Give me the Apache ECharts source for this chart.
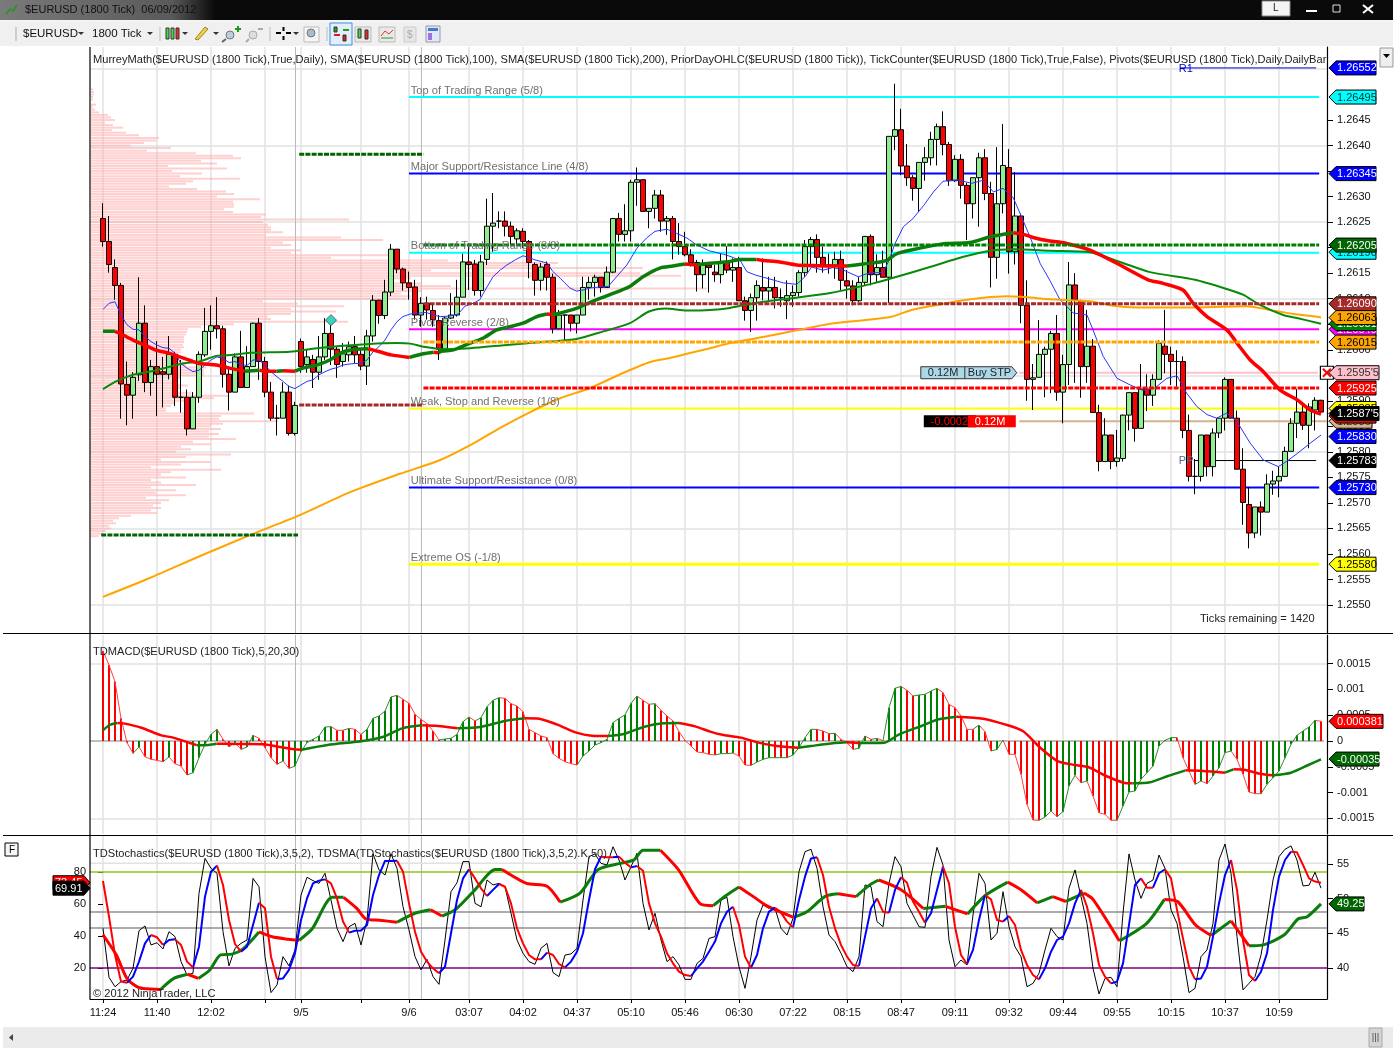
<!DOCTYPE html>
<html><head><meta charset="utf-8">
<style>html,body{margin:0;padding:0;background:#fff}#c{width:1400px;height:1050px}</style>
<script src="https://cdn.jsdelivr.net/npm/echarts@6/dist/echarts.min.js"></script>
</head><body><div id="c"></div>
<script>
// ---------- candles, in points (1e-5 of price), one entry per bar ----------
const opens=[126257,126212,126161,126126,125932,125911,125951,126052,125936,125967,
125957,125952,125991,125907,125907,125845,125907,125990,126036,126047,
126041,125952,125917,125986,125926,125967,126052,125977,125917,125866,
125866,125917,125836,126016,125971,125981,125956,125986,126032,126001,
125977,125990,126006,125991,125968,126027,126097,126067,126113,126197,
126158,126131,126123,126068,126091,126077,126057,126001,126062,126068,
126103,126172,126168,126116,126177,126242,126252,126252,126242,126217,
126232,126212,126167,126136,126167,126142,126041,126068,126068,126052,
126068,126122,126132,126142,126122,126152,126257,126226,126233,126328,
126333,126271,126277,126303,126252,126257,126212,126202,126186,126171,
126147,126166,126152,126147,126171,126156,126161,126096,126077,126102,
126122,126115,126122,126102,126096,126106,126112,126151,126202,126216,
126181,126166,126166,126177,126135,126125,126096,126132,126222,126147,
126161,126142,126418,126431,126360,126337,126316,126367,126376,126412,
126437,126402,126331,126373,126322,126286,126337,126376,126306,126181,
126286,126357,126192,126262,126087,125942,125946,125991,126001,126032,
125917,125971,126127,126096,125967,126007,125877,125781,125833,125781,
125787,125872,125916,125846,125923,125911,125942,126007,125991,125977,
125977,125842,125752,125752,125833,125771,125837,125866,125942,125866,
125766,125697,125641,125692,125682,125737,125743,125752,125801,125856,
125878,125852,125882,125901];
const closes=[126212,126167,126126,125933,125911,125946,126052,125936,125967,125952,
125952,125991,125907,125907,125845,125907,125991,126036,126047,126041,
125952,125917,125986,125926,125967,126052,125977,125917,125866,125866,
125917,125836,125891,125967,125986,125956,125986,126032,126001,125971,
125992,126006,125990,125968,126027,126097,126067,126113,126197,126158,
126131,126122,126068,126091,126078,126059,126001,126062,126068,126103,
126172,126167,126116,126172,126242,126248,126252,126242,126222,126233,
126212,126171,126136,126162,126142,126041,126068,126068,126052,126068,
126122,126132,126142,126122,126152,126257,126226,126233,126328,126333,
126271,126277,126303,126252,126257,126212,126202,126186,126171,126147,
126166,126161,126147,126171,126156,126161,126096,126077,126102,126126,
126115,126122,126102,126102,126106,126112,126151,126202,126216,126181,
126166,126166,126177,126136,126125,126096,126132,126222,126147,126161,
126142,126418,126431,126360,126337,126316,126367,126376,126412,126437,
126402,126331,126373,126322,126286,126337,126376,126306,126181,126286,
126361,126192,126262,126087,125942,125945,125991,126001,126032,125917,
125971,126127,126098,125967,126007,125877,125781,125833,125781,125788,
125872,125916,125846,125923,125911,125942,126013,125991,125977,125977,
125842,125752,125752,125833,125771,125837,125866,125942,125866,125766,
125701,125641,125692,125682,125737,125743,125752,125801,125856,125878,
125852,125888,125901,125878];
const lows=[126202,126151,126098,125865,125852,125865,125939,125917,125910,125870,
125887,125942,125890,125877,125832,125845,125896,125986,126000,126022,
125926,125881,125917,125926,125926,125967,125941,125907,125861,125832,
125866,125832,125832,125955,125955,125925,125941,125980,125970,125945,
125967,125977,125973,125960,125931,126016,126051,126060,126105,126150,
126116,126098,126059,126045,126059,126045,125980,126001,126060,126065,
126103,126117,126106,126104,126166,126192,126238,126222,126205,126204,
126199,126140,126106,126116,126116,126032,126041,126019,126036,126032,
126068,126098,126104,126112,126122,126150,126212,126212,126212,126282,
126271,126238,126257,126231,126225,126177,126186,126183,126163,126114,
126120,126112,126133,126130,126150,126133,126096,126057,126035,126057,
126097,126096,126081,126084,126060,126084,126104,126143,126162,126151,
126151,126149,126139,126117,126100,126087,126094,126126,126126,126133,
126142,126092,126391,126342,126321,126292,126270,126331,126361,126361,
126381,126321,126329,126296,126215,126257,126241,126293,126122,126139,
126267,126149,126167,126052,125900,125882,125946,125907,125915,125900,
125856,125931,125935,125906,125935,125877,125762,125781,125766,125771,
125781,125842,125820,125846,125880,125890,125942,125954,125931,125928,
125827,125742,125717,125742,125752,125752,125827,125842,125866,125766,
125657,125611,125631,125636,125682,125716,125711,125752,125801,125827,
125843,125807,125842,125876];
const highs=[126287,126262,126177,126131,125977,125956,126142,126087,125980,126017,
125986,126027,125996,125980,125922,125917,125997,126082,126087,126103,
126047,125967,125993,126037,126007,126053,126062,125986,125937,125892,
125936,125930,125898,126022,126000,125990,126027,126062,126051,126006,
126013,126016,126027,126001,126039,126107,126098,126137,126207,126197,
126161,126153,126137,126103,126104,126091,126068,126065,126111,126137,
126188,126209,126176,126186,126296,126307,126271,126271,126251,126238,
126238,126215,126171,126170,126173,126149,126078,126068,126068,126068,
126143,126143,126147,126142,126163,126257,126268,126285,126333,126357,
126333,126277,126313,126313,126262,126262,126248,126231,126197,126176,
126177,126166,126166,126188,126203,126179,126182,126104,126110,126136,
126179,126143,126143,126120,126136,126126,126156,126215,126221,126226,
126202,126188,126192,126194,126156,126136,126143,126223,126226,126187,
126194,126418,126521,126472,126403,126342,126367,126397,126427,126443,
126467,126407,126381,126383,126327,126337,126386,126393,126329,126397,
126442,126393,126348,126267,126136,125972,126058,126006,126037,126068,
125990,126172,126150,126098,126078,126021,125892,125866,125833,125843,
125873,125916,125916,125972,125952,125952,126019,126078,126006,125999,
125987,125873,125786,125833,125833,125846,125866,125946,125942,125881,
125807,125731,125692,125703,125756,125763,125771,125810,125866,125923,
125895,125895,125907,125902];

// ---------- moving averages: [bar, points] ----------
const fastMA=[[0,126079],[1,126091],[2,126094],[3,126068],[4,126049],[5,126040],[6,126039],[7,126026],[8,126016],[9,126009],[10,126004],[11,126003],[12,125993],[13,125973],[14,125964],[15,125957],[16,125960],[17,125970],[18,125980],[19,125986],[20,125983],[21,125975],[22,125977],[23,125971],[24,125969],[25,125980],[26,125980],[27,125970],[28,125957],[29,125947],[30,125938],[31,125928],[32,125924],[33,125931],[34,125938],[35,125941],[36,125951],[37,125957],[38,125962],[39,125965],[40,125970],[41,125972],[42,125973],[43,125973],[44,125980],[45,125996],[46,126006],[47,126019],[48,126039],[49,126055],[50,126065],[51.2,126070],[52.8,126072],[53.9,126073],[55.1,126068],[56.2,126065],[57.8,126066],[59.2,126070],[60.3,126085],[61.7,126091],[62.8,126098],[63.9,126121],[65,126143],[66.2,126156],[67.3,126166],[68.7,126176],[70,126184],[70.9,126181],[72,126176],[74,126170],[75,126153],[76.2,126140],[77.8,126121],[78.9,126115],[80,126117],[81.2,126121],[82.8,126123],[84.2,126124],[85.6,126143],[87.3,126166],[89,126199],[90.6,126219],[92,126232],[94,126236],[95.6,126228],[97.3,126219],[99,126205],[101,126194],[103.4,126187],[104.5,126183],[106.2,126175],[107.3,126153],[108.8,126146],[111,126139],[113.4,126131],[115.6,126128],[117,126143],[118.1,126162],[120,126156],[121.7,126161],[123.4,126156],[125.9,126143],[127.8,126151],[130,126151],[131,126175],[132,126208],[133.4,126241],[135,126257],[136.8,126283],[138.4,126309],[140,126330],[142.3,126333],[144.8,126326],[146.7,126332],[148.4,126309],[150,126316],[151.7,126298],[153.1,126260],[154.5,126221],[156.2,126169],[157.8,126136],[159.5,126098],[161.7,126072],[164,126068],[165,126039],[166.7,125987],[169,125944],[171.2,125931],[173.4,125920],[175.3,125925],[177.3,125944],[179,125949],[180.6,125915],[182.3,125889],[184,125873],[185.6,125866],[187.3,125876],[189,125859],[191.2,125817],[193.4,125784],[195.9,125771],[197.6,125784],[199.5,125801],[201.2,125817],[203,125833]];
const sma100=[[0,126036],[2,126036],[3,126031],[5,126019],[7,126009],[8.9,125999],[11.1,125993],[12.8,125986],[15,125977],[16.1,125973],[18.9,125970],[21.1,125964],[23.6,125958],[26.1,125960],[26.7,125958],[28.9,125958],[30,125959],[32,125958],[33.3,125964],[35.6,125970],[37.8,125980],[40,125996],[42.2,126001],[44.2,126002],[46.1,125996],[48,125990],[51.1,125985],[53.4,125992],[55.1,125995],[55.9,125994],[56.4,125997],[58.4,126000],[60.6,126010],[63.4,126023],[65.6,126039],[67.8,126045],[70,126052],[72.3,126065],[74,126070],[74.8,126069],[75.6,126070],[78.9,126081],[81.2,126093],[84.5,126108],[87.8,126124],[90,126143],[92.8,126160],[95,126164],[97,126168],[99,126166],[100,126168],[102.8,126171],[104.5,126173],[106.2,126177],[108.9,126177],[110,126175],[112.8,126172],[115.6,126166],[118.4,126165],[121.2,126164],[124,126164],[126.7,126168],[129.5,126172],[130.6,126175],[132.3,126188],[134.5,126195],[137.8,126203],[140.6,126208],[144.5,126210],[147.8,126221],[151.7,126229],[153.4,126226],[155,126220],[157.8,126213],[160.3,126209],[164.5,126195],[169.5,126166],[174.2,126137],[176.7,126130],[180,126117],[181.7,126091],[184,126065],[187.3,126039],[189,126013],[191.2,125980],[193.4,125957],[196.2,125921],[199,125902],[201.2,125882],[203,125874]];
const sma200Green=[[0,125923],[2.2,125938],[5,125951],[8.9,125960],[13.3,125973],[16.1,125977],[18.9,125988],[21.7,125990],[24.4,125994],[27.8,125995],[31.1,125996],[35.6,126003],[40,126008],[43.9,126011],[48.9,126013],[51.2,126012],[53.4,126006],[56.7,126001],[61.2,126003],[67.8,126010],[74.5,126016],[78.9,126021],[83.4,126036],[87.8,126052],[91,126075],[93.8,126081],[97.3,126077],[101.2,126078],[104.5,126082],[110,126094],[115.6,126102],[121.2,126111],[128.4,126130],[132.3,126143],[137.8,126162],[143.4,126182],[147.8,126194],[151.7,126197],[157.8,126194],[164.5,126191],[169.5,126172],[174.5,126152],[182,126137],[187.3,126119],[190,126108],[192.8,126088],[196.7,126068],[199,126062],[202.3,126053],[203,126051]];
const smaOrange=[[0,125516],[7.8,125553],[16.2,125596],[24.5,125637],[32.8,125676],[41.2,125721],[49.5,125757],[56.2,125784],[61.2,125813],[66.2,125847],[71.2,125878],[76.2,125905],[81.2,125925],[86.2,125952],[91.2,125976],[94.5,125984],[97.3,125992],[101.2,126003],[104.5,126013],[110,126025],[115.6,126038],[121.2,126051],[126.7,126058],[131.2,126064],[134.5,126077],[137.8,126085],[142.3,126095],[146.7,126102],[150.6,126105],[152.8,126104],[155.6,126101],[157.8,126099],[161.2,126097],[164.5,126095],[168.4,126086],[172.3,126083],[182.3,126083],[190.6,126085],[194.5,126078],[198.4,126070],[202,126065],[203,126063]];

// ---------- volume profile: estimated volume per 0.5 pip row, top row first ----------
const profileTop=1.2651, profileStep=0.00005;
const profile=[2,3,3,2,2,0,5,2,4,8,17,20,24,14,22,32,21,35,48,68,65,53,40,80,56,105,142,150,110,126,77,136,81,111,89,149,102,95,78,106,135,143,126,169,142,143,143,133,142,175,170,258,172,177,180,180,192,175,250,292,192,200,180,210,200,300,240,357,467,460,552,340,549,590,320,300,330,360,616,330,310,320,315,172,207,253,200,245,200,177,180,257,143,110,97,96,95,93,93,93,92,93,90,90,88,83,85,93,95,115,113,113,113,90,85,83,97,90,85,100,137,123,100,83,80,75,75,163,130,128,187,132,120,130,118,128,118,145,102,120,90,100,85,140,95,70,120,90,60,130,80,70,95,60,70,105,60,85,65,95,55,78,70,62,70,60,66,40,28,22,25,18,20,15,12,8];

// ---------- horizontal levels ----------
const murreyNames=['Top of Trading Range (5/8)','Major Support/Resistance Line (4/8)','Bottom of Trading Range (3/8)','Pivot, Reverse (2/8)','Weak, Stop and Reverse (1/8)','Ultimate Support/Resistance (0/8)','Extreme OS (-1/8)'];
const murreyValues=[1.26495,1.26345,1.26190,1.26040,1.25885,1.25730,1.25580];
const murreyColors=['#00ffff','#0000ff','#00ffff','#ff00ff','#ffff00','#0000ff','#ffff00'];
const murreyWidths=[2,2,2,2,2,2,3];
const murreyFrom=51, murreyTo=202.7;
const pivotFrom=[-0.3,32.7,32.7,53.4,53.4,53.4,53.4];
const pivotTo=[32.5,53.4,53.4,202.7,202.7,202.7,202.7];
const pivotValues=[1.25637,1.26383,1.25892,1.26205,1.26090,1.26015,1.25925];
const pivotColors=['#006400','#006400','#a52a2a','#008000','#a52a2a','#ffa500','#ff0000'];
const sessionBreaks=[32.08,53.07];

// ---------- axes ----------
const priceTicks=[1.2550,1.2555,1.2560,1.2565,1.2570,1.2575,1.2580,1.2585,1.2590,1.2595,1.2600,1.2605,1.2610,1.2615,1.2620,1.2625,1.2630,1.2635,1.2640,1.2645];
const priceGrid=[1.2550,1.2565,1.2580,1.2595,1.2610,1.2625,1.2640,1.2655];
const macdTicks=[0.0015,0.001,0.0005,0,-0.0005,-0.001,-0.0015];
const macdGrid=[0.0015,-0.0015];
const stochLeftTicks=[20,40,60,80];
const stochRightTicks=[40,45,50,55];
const xTickBars=[0,9,18,27,33,43,51,61,70,79,88,97,106,115,124,133,142,151,160,169,178,187,196];
const xTickLabels=['11:24','11:40','12:02','','9/5','','9/6','03:07','04:02','04:37','05:10','05:46','06:30','07:22','08:15','08:47','09:11','09:32','09:44','09:55','10:15','10:37','10:59'];

// ---------- MACD, in millionths ----------
const macdHist=[1744,1473,1150,439,-32,-239,-116,-304,-355,-375,-401,-310,-439,-485,-659,-614,-323,-65,129,226,32,-116,-32,-162,-116,110,52,-129,-323,-452,-388,-530,-485,-207,-32,32,97,271,278,207,207,245,226,129,226,439,485,581,853,885,808,730,517,420,336,194,19,39,52,129,375,465,388,452,665,788,840,827,724,678,568,226,162,97,65,-245,-336,-401,-439,-465,-291,-194,-78,-32,32,355,439,504,730,872,788,711,724,594,485,388,181,13,-97,-213,-226,-258,-271,-245,-245,-233,-291,-465,-472,-407,-355,-323,-323,-323,-323,-271,-129,65,226,226,194,142,149,32,-32,-162,-142,97,32,52,6,646,1021,1059,982,872,891,904,969,1021,937,711,646,485,226,226,310,181,-194,-162,19,-258,-258,-646,-1227,-1531,-1537,-1473,-1357,-1466,-1370,-872,-665,-808,-775,-1066,-1389,-1421,-1537,-1537,-1260,-988,-969,-743,-614,-485,-97,13,65,65,-323,-581,-840,-775,-827,-678,-517,-226,-194,-355,-646,-988,-1021,-1021,-840,-711,-581,-323,-65,110,194,271,401,381];
const macdSignal=[[0,207],[1.1,310],[2.4,349],[3.4,342],[6.4,258],[9.7,110],[11.7,65],[14.3,-32],[15.6,-80],[17.6,-76],[18.9,-52],[20.9,-55],[24.2,-58],[26.8,-65],[29.5,-116],[31.8,-162],[33.1,-168],[37.4,-78],[43.3,0],[46.6,78],[49.9,245],[53.2,304],[55.8,291],[59.1,245],[63.1,278],[67,388],[70.3,439],[72.3,438],[75.6,323],[78.9,162],[81.5,103],[84.2,97],[86.8,136],[90.1,271],[93.4,342],[96,349],[98.7,284],[101.2,181],[103.4,116],[106.3,65],[109.3,-32],[112.2,-97],[115.9,-129],[118,-97],[121,-52],[123.9,-26],[126.1,-39],[130.2,-32],[132.7,129],[136.4,291],[139.3,420],[142.3,472],[146.7,433],[150.3,323],[153.3,194],[156.2,-129],[159.1,-388],[162,-465],[164.2,-504],[167.2,-678],[170.1,-808],[171.6,-820],[174.5,-801],[177.5,-678],[180.4,-568],[183.3,-581],[187,-614],[188.4,-549],[189.9,-552],[192.8,-633],[195,-665],[198,-614],[200.9,-465],[203,-355]];

// ---------- stochastics ----------
const stochK=[44.8,14.2,8.3,11.5,12.5,19.8,43.3,46.3,34.4,35.8,31.9,42.7,39.6,24,15.6,16.7,66.7,88.5,82.3,79.2,42.7,21.3,32.3,35.4,37.5,76,70.8,27.1,4.6,9.4,27.1,21.3,31.3,65.6,76.7,74.6,72.9,79.2,62.5,44.8,36.5,45.8,47.9,34.4,50,91.3,81.3,78.1,91.3,82.3,58.3,43.8,27.1,18.8,25.4,14.6,9.8,37.5,67.7,73.3,86.5,86.5,60.4,58.3,75,71.9,72.9,70.8,54.2,37.5,29.2,24,22.3,32.3,35.4,17.1,14.6,28.1,28.8,32.3,62.5,89.6,91.3,85.4,84.4,95.8,87.5,75,83.3,91.7,60.4,43.8,54.2,37.5,24,27.1,21.9,12.9,12.9,22.9,26,38.5,39.6,62.5,64.2,39.6,20.8,7.3,27.1,50,59.4,57.3,57.3,44.8,40.6,51,80.2,92.7,94.2,82.3,58.3,40.6,36.5,29.2,20.8,17.7,27.1,71.9,70.8,49,45.8,72.9,89.6,83.3,60.4,53.1,45.8,45.4,77.1,95.4,84.4,37.5,20.8,25,21.9,53.1,79.2,72.9,37.5,41.7,67.7,45.8,33.3,27.1,8.3,10.4,16.7,31.3,44.8,39.6,37.5,69.8,81.3,64.6,47.9,19.8,3.8,13.5,14.2,8.3,54.2,91.3,75,63.5,72.9,75,90.6,82.3,56.3,47.9,27.1,4.6,7.3,27.1,31.3,47.9,87.5,97.5,79.2,39.6,6.3,10.4,14.6,28.1,50,75,89.6,94.2,96.3,87.5,71.3,71.7,79.8,69.91];
const stochD=[74.4,52.1,28.1,11.5,10.8,14.6,24,35.4,40.6,39.2,34.4,37.5,37.9,34.4,24,20.4,33.3,64.6,80.2,84,71.9,50,35,30.2,33.3,46.9,60.8,57.3,27.1,13.1,13.5,18.8,29.2,50,63.5,72.9,74.6,75.4,72.9,63.5,49,42.1,43.3,43.4,46.9,65.6,78.1,86.9,86.9,87,80.2,60.4,42.7,30.2,24,19.8,16.7,20.8,41.7,62.5,76,81.7,76,69.8,65,68.8,72.5,70.8,60.4,44.8,35.4,28.1,25.4,25.4,29.6,28.1,22.5,20.4,24,30.2,41.7,62.5,81.7,89.6,89.2,89.2,89.6,85.8,82.9,83.8,80.8,60.4,47.9,39.6,29.2,22.9,17.7,15.6,15,19.8,24,30.2,36.5,47.9,55.2,58.3,46.9,27.1,20.2,28.1,44.8,55.2,57.7,54.6,49,45.4,62.5,77.1,88.5,89.2,78.1,58.3,44.8,34.4,27.1,21.9,21.3,39.6,57.3,63.5,55.2,54.6,68.8,76.7,73.3,61.5,55.2,48.3,54.2,68.8,83.3,72.9,45.8,28.1,22.5,31.3,50,65.6,62.9,50,49,52.5,46.9,31.3,21.9,15.6,12.9,19.8,30.2,37.5,39.6,47.9,60.4,68.8,58.3,41.7,21.9,14.6,10.4,11.5,22.9,46.9,71.9,76,70.2,70.2,79.2,81.7,76,56.3,38.5,20.8,12.9,13.5,20.8,39.6,60.4,78.1,87.5,68.8,37.5,15.6,11.9,17.7,29.2,56.3,77.1,87.5,92.7,92.3,84.4,76,74,73.3];
const stochSMA=[[0,44.8],[2.2,41.9],[4,38.5],[5.9,37.2],[7.4,37],[9.6,36.9],[11.8,38.5],[14.1,39.1],[15.9,38.5],[17.8,39.7],[19.6,41.9],[21.5,42],[23.4,42.8],[26,45.2],[28.2,44.5],[30.4,44.2],[32.7,44],[34.9,45.7],[38.2,50.2],[40.1,50.2],[42.3,48.6],[43.8,47.1],[46.1,46.9],[49,46.6],[52,47.9],[54.6,48.4],[56.5,47.5],[58.7,48.4],[61.7,51],[65.4,54.2],[66.5,54.2],[70.6,52.2],[74,51.8],[76.2,49.5],[79.5,50.8],[82.5,54.2],[86.2,55.1],[88.5,55.6],[90,57],[92.9,57],[95.9,54.2],[99.5,49.3],[101.7,49],[103.9,50.5],[106,51.7],[108.4,50.3],[110.6,49],[115.1,47.3],[117.3,48.1],[120.3,50.3],[122.5,50.7],[125.5,50.3],[127.8,52],[129.3,52.7],[133,51.3],[136.7,48.6],[140.4,48.9],[144.1,47.8],[147.1,50.5],[150.8,52.4],[153,51.3],[155.7,49.4],[158.3,50.3],[160.5,49.6],[163.5,50.8],[165,49.9],[169.4,43.9],[173.9,46.4],[176.9,49.9],[179.1,49.6],[182.1,46.2],[184.7,44.7],[188,46.8],[191,43.2],[193.2,43.3],[196.9,44.8],[199.2,47.1],[200.7,47.4],[203,49.25]];
const stochLevels=[85.4,80,55,45,20];
const stochLevelColors=['#e2e2e2','#8fc31f','#909090','#909090','#7a007a'];

// ---------- value flags ----------
const priceTags=[
 [1.26552,'1.26552','#0000ff','#fff'],[1.26495,'1.26495','#00ffff','#003333'],[1.26345,'1.26345','#0000ff','#fff'],
 [1.26191,'1.26190','#00ffff','#003333'],[1.26205,'1.26205','#006400','#fff'],
 [1.26040,'1.26040','#ff00ff','#fff'],[1.26051,'1.26051','#008000','#fff'],[1.26015,'1.26015','#ffa500','#000'],
 [1.26090,'1.26090','#a52a2a','#fff'],[1.26063,'1.26063','#ffa500','#000'],
 [1.25955,'1.2595\'5','#ffc0cb','#333'],[1.25925,'1.25925','#ff0000','#fff'],
 [1.25885,'1.25885','#ffff00','#000'],[1.25860,'1.2586','#d2b48c','#333'],[1.25870,'1.25870','#ff0000','#fff'],
 [1.25875,'1.2587\'5','#000000','#fff'],
 [1.25830,'1.25830','#0000ff','#fff'],[1.25783,'1.25783','#000000','#fff'],[1.25730,'1.25730','#0000ff','#fff'],[1.25580,'1.25580','#ffff00','#000']];
const macdTags=[[0.000381,'0.000381','#ff0000','#fff'],[-0.00035,'-0.00035','#006400','#fff']];
const stochRightTags=[[49.25,'49.25','#006400','#fff']];
const stochLeftTags=[[73.3,'73.45','#ff0000','#fff'],[69.91,'69.91','#000000','#fff']];

const orderPrice=1.25955, positionPrice=1.25860, pivotPP=1.25783, pivotR1=1.26552, diamondBar=37, diamondPrice=1.26058;

// ---------- helpers ----------
const FONT='"Liberation Sans",Arial,sans-serif';
const XMIN=-2.1667,XMAX=204;
const bars=opens.map((o,i)=>i);
const P=v=>v/1e5, M=v=>v/1e6;
const toPrice=a=>a.map(p=>[p[0],P(p[1])]);
function bySlope(pts){
  const up=[],down=[];let last=pts[1][1]>=pts[0][1]?'u':'d',open=null;
  for(let k=1;k<pts.length;k++){
    const d=pts[k][1]-pts[k-1][1];
    if(d>0)last='u';else if(d<0)last='d';
    const a=last==='u'?up:down,b=last==='u'?down:up;
    if(open!==last){ if(a.length)a.push(null); a.push(pts[k-1]); if(b.length&&b[b.length-1]!==null)b.push(null); open=last;}
    a.push(pts[k]);
  }
  return {up,down};
}
function line(name,data,color,width,xi,yi,z,extra){
  return Object.assign({name,type:'line',data,xAxisIndex:xi,yAxisIndex:yi,showSymbol:false,symbol:'none',silent:true,z,
    lineStyle:{color,width,cap:'butt',join:'round'},itemStyle:{color},connectNulls:false,animation:false},extra||{});
}
function tagSeries(list,xi,yi,left){
  return {type:'custom',xAxisIndex:xi,yAxisIndex:yi,z:30,clip:false,silent:true,animation:false,
    data:list.map((t,i)=>[i,t[0]]),encode:{x:-1,y:1},
    renderItem(p,api){
      const t=list[api.value(0)];
      const c=api.coord([left?XMIN:XMAX,t[0]]);const y=c[1];let pts,tx;
      if(left){pts=[[c[0],y],[c[0]-6,y-7],[c[0]-37,y-7],[c[0]-37,y+7],[c[0]-6,y+7]];tx=c[0]-35;}
      else{const n=String(t[1]).length;const s=String(t[1]);
        const w=s==='0.000381'?54:(s==='-0.00035'?50:(n>7?50:(n===5?35:(s==='1.2586'?43:47))));const x0=c[0]+2;
        pts=[[x0,y],[x0+7,y-7],[x0+w,y-7],[x0+w,y+7],[x0+7,y+7]];tx=x0+8;}
      return {type:'group',children:[
        {type:'polygon',shape:{points:pts},style:{fill:t[2],stroke:'#000',lineWidth:1}},
        {type:'text',style:{x:tx,y:y+0.5,text:t[1],fill:t[3],font:'11px '+FONT,verticalAlign:'middle',textAlign:'left'}}]};
    }};
}
function yAxisBase(grid,pos,min,max,o){
  return Object.assign({type:'value',gridIndex:grid,position:pos,min,max,scale:true,
    axisLine:{show:false},axisTick:{show:false},axisLabel:{show:false},splitLine:{show:false}},o||{});
}
function labelledY(grid,pos,min,max,ticks,fmt){
  return yAxisBase(grid,pos,min,max,{
    axisLine:{show:true,lineStyle:{color:'#000',width:1.2}},
    axisTick:{show:true,inside:false,length:6,lineStyle:{color:'#000'},customValues:ticks},
    axisLabel:{show:true,customValues:ticks,formatter:fmt,color:'#111',fontFamily:'Liberation Sans',fontSize:11,margin:10,showMinLabel:true,showMaxLabel:true}});
}
function gridY(grid,min,max,ticks){
  return yAxisBase(grid,'right',min,max,{axisTick:{show:false,customValues:ticks},splitLine:{show:true,lineStyle:{color:'#e2e2e2',width:1.5}}});
}
function xAxis(grid,labels){
  return {type:'value',gridIndex:grid,min:XMIN,max:XMAX,
    axisLine:{show:labels,onZero:false,lineStyle:{color:'#000',width:1.2}},
    axisTick:{show:labels,length:4,customValues:xTickBars,lineStyle:{color:'#000'}},
    axisLabel:{show:labels,customValues:xTickBars,color:'#111',fontFamily:'Liberation Sans',fontSize:11,margin:8,
      formatter:v=>{const k=xTickBars.indexOf(v);return k<0?'':xTickLabels[k];}},
    splitLine:{show:true,lineStyle:{color:'#e2e2e2',width:1.5}}};
}

const PMIN=1.254452,PMAX=1.265930,MMIN=-0.001802,MMAX=0.002054,LMIN=0.625,LMAX=102.5,RMIN=35.527,RMAX=59.048;
const SM={smooth:0.25};

const series=[];
// session separators
[[0,0,PMIN,PMAX],[1,2,MMIN,MMAX],[2,4,LMIN,LMAX]].forEach(g=>sessionBreaks.forEach(b=>
  series.push(line('session',[[b,g[2]],[b,g[3]]],'#b8b8b8',1,g[0],g[1],1))));
// volume profile
series.push({type:'custom',xAxisIndex:0,yAxisIndex:0,z:2,silent:true,clip:false,animation:false,
  data:profile.map((v,j)=>[j,profileTop-j*profileStep,v]),encode:{x:-1,y:1},
  renderItem(p,api){
    const c=api.coord([XMIN,api.value(1)]);
    return {type:'rect',shape:{x:c[0]+1,y:c[1]-1,width:api.value(2),height:2},style:{fill:'rgba(255,170,170,0.55)'}};
  }});
// Murrey levels
murreyValues.forEach((v,k)=>series.push(line(murreyNames[k],[[murreyFrom,v],[murreyTo,v]],murreyColors[k],murreyWidths[k],0,0,3)));
// order line and tan position line
series.push(line('order',[[152.7,orderPrice],[202.5,orderPrice]],'#ffc0cb',2,0,0,3));
series.push(line('position',[[152.7,positionPrice],[XMAX,positionPrice]],'#d2b48c',2,0,0,3));
series.push(line('PP',[[181.8,pivotPP],[202.2,pivotPP]],'#000',1,0,0,3));
series.push(line('R1',[[179.5,pivotR1],[202.2,pivotR1]],'#0000cc',1,0,0,3));
// candles
series.push({type:'candlestick',xAxisIndex:0,yAxisIndex:0,z:4,silent:true,animation:false,barWidth:5,
  encode:{x:0,y:[1,2,3,4]},
  data:bars.map(i=>[i,P(opens[i]),P(closes[i]),P(lows[i]),P(highs[i])]),
  itemStyle:{color:'#90ee90',color0:'#ff0000',borderColor:'#000',borderColor0:'#000',borderColorDoji:'#000',borderWidth:1}});
// MAs
series.push(line('fast',toPrice(fastMA),'#2a35ff',1,0,0,5));
series.push(line('orange',toPrice(smaOrange),'#ffa500',2,0,0,5,SM));
series.push(line('green',toPrice(sma200Green),'#0a8a0a',2,0,0,5,SM));
const s100=bySlope(toPrice(sma100));
series.push(line('sma100up',s100.up,'#0b7d0b',3.5,0,0,6,SM));
series.push(line('sma100dn',s100.down,'#ff0000',3.5,0,0,6,SM));
// pivot dashes
pivotValues.forEach((v,k)=>series.push(line('pivot'+k,[[pivotFrom[k],v],[pivotTo[k],v]],pivotColors[k],3,0,0,7,{lineStyle:{color:pivotColors[k],width:3,type:[5,1.2]}})));
// on-chart labels
series.push({type:'custom',xAxisIndex:0,yAxisIndex:0,z:8,silent:true,clip:false,animation:false,
  data:murreyValues.map((v,k)=>[k,v]),encode:{x:-1,y:1},
  renderItem(p,api){const k=api.value(0);const c=api.coord([murreyFrom+0.3,murreyValues[k]]);
    return {type:'text',style:{x:c[0],y:c[1]-6.5,text:murreyNames[k],fill:'#707070',font:'11.1px '+FONT,verticalAlign:'middle'}};}});
// order boxes, PP/R1 text, diamond
series.push({type:'custom',xAxisIndex:0,yAxisIndex:0,z:9,silent:true,clip:false,animation:false,
  data:[[0,orderPrice]],encode:{x:-1,y:1},
  renderItem(p,api){
    const o=api.coord([136.3,orderPrice]),q=api.coord([136.8,positionPrice]),x=api.coord([202.9,orderPrice]),pp=api.coord([179.3,pivotPP]),r1=api.coord([179.3,pivotR1]),d=api.coord([diamondBar,diamondPrice]);
    const tx=(X,Y,t,f,a)=>({type:'text',style:{x:X,y:Y,text:t,fill:f,font:'11px '+FONT,verticalAlign:'middle',textAlign:a||'left'}});
    return {type:'group',children:[
      {type:'polygon',shape:{points:[[o[0],o[1]-6],[o[0]+91,o[1]-6],[o[0]+96,o[1]],[o[0]+91,o[1]+6],[o[0],o[1]+6]]},style:{fill:'#add8e6',stroke:'#333',lineWidth:1}},
      {type:'line',shape:{x1:o[0]+44,y1:o[1]-6,x2:o[0]+44,y2:o[1]+6},style:{stroke:'#333',lineWidth:1}},
      tx(o[0]+7,o[1]+.5,'0.12M','#223'),tx(o[0]+47,o[1]+.5,'Buy STP','#223'),
      {type:'rect',shape:{x:q[0],y:q[1]-6,width:52,height:12},style:{fill:'#000'}},
      {type:'rect',shape:{x:q[0]+44,y:q[1]-6,width:48,height:12},style:{fill:'#ff0000'}},
      tx(q[0]+7,q[1]+.5,'-0.0002','#ff0000'),tx(q[0]+51,q[1]+.5,'0.12M','#fff'),
      {type:'rect',shape:{x:x[0],y:x[1]-6.5,width:13,height:13},style:{fill:'#fff',stroke:'#000',lineWidth:1.2}},
      {type:'line',shape:{x1:x[0]+2.5,y1:x[1]-4,x2:x[0]+10.5,y2:x[1]+4},style:{stroke:'#ff0000',lineWidth:2}},
      {type:'line',shape:{x1:x[0]+10.5,y1:x[1]-4,x2:x[0]+2.5,y2:x[1]+4},style:{stroke:'#ff0000',lineWidth:2}},
      tx(pp[0],pp[1],'PP','#5a6a8a'),tx(r1[0],r1[1]+1,'R1','#0000cc'),
      {type:'polygon',shape:{points:[[d[0]+6,d[1]-5.5],[d[0]+11.5,d[1]],[d[0]+6,d[1]+5.5],[d[0]+0.5,d[1]]]},style:{fill:'#40d0c0',stroke:'#2f6f6f',lineWidth:1}}
    ]};
  }});
series.push(tagSeries(priceTags,0,1,false));
// MACD
const histPts=bars.map(i=>[i,M(macdHist[i])]);
series.push(line('zero',[[XMIN,0],[203.5,0]],'#a8a8a8',1.5,1,2,2));
series.push({type:'bar',xAxisIndex:1,yAxisIndex:2,z:4,barWidth:2,silent:true,animation:false,data:histPts,
  itemStyle:{color:p=>{const i=p.dataIndex;return (i>0&&macdHist[i]>macdHist[i-1])?'#008000':'#ff0000';}}});
const hs=bySlope(histPts);
series.push(line('histUp',hs.up,'#2e8b2e',1,1,2,5));
series.push(line('histDn',hs.down,'#ff4040',1,1,2,5));
const ms=bySlope(macdSignal.map(p=>[p[0],M(p[1])]));
series.push(line('sigUp',ms.up,'#0b7d0b',2.5,1,2,6,SM));
series.push(line('sigDn',ms.down,'#ff0000',2.5,1,2,6,SM));
series.push(tagSeries(macdTags,1,3,false));
// Stochastics
stochLevels.forEach((v,k)=>series.push(line('lvl'+k,[[XMIN,v],[XMAX,v]],stochLevelColors[k],1.5,2,4,2)));
series.push(line('K',bars.map(i=>[i,stochK[i]]),'#000',1,2,4,4));
const ds=bySlope(bars.map(i=>[i,stochD[i]]));
const ss=bySlope(stochSMA);
series.push(line('smaUp',ss.up,'#0a7d0a',3,2,5,5,SM));
series.push(line('smaDn',ss.down,'#ff0000',3,2,5,5,SM));
series.push(line('dUp',ds.up,'#0000ff',2,2,4,6));
series.push(line('dDn',ds.down,'#ff0000',2,2,4,6));
series.push(tagSeries(stochRightTags,2,5,false));
series.push(tagSeries(stochLeftTags,2,4,true));

// ---------- window chrome and captions ----------
const T=(x,y,text,fill,size,extra)=>({type:'text',x,y:y+1,z:50,style:Object.assign({text,fill:fill||'#111',font:(size||11.1)+'px '+FONT,textVerticalAlign:'middle',verticalAlign:'middle'},extra||{})});
const R=(x,y,w,h,fill,stroke)=>({type:'rect',z:40,shape:{x,y,width:w,height:h},style:{fill,stroke:stroke||null,lineWidth:1}});
const L=(x1,y1,x2,y2,c,w)=>({type:'line',z:45,shape:{x1,y1,x2,y2},style:{stroke:c||'#000',lineWidth:w||1}});
const cand=(x,y,h,c)=>R(x,y,3,h,c,'#333');
const graphic=[
 R(0,0,1393,20,'#0a0a0a'),
 {type:'rect',z:41,shape:{x:0,y:0,width:215,height:20},style:{fill:new echarts.graphic.LinearGradient(0,0,1,0,[{offset:0,color:'#7a7a7a'},{offset:.8,color:'#5a5a5a'},{offset:1,color:'#0a0a0a'}])}},
 T(25,9,'$EURUSD (1800 Tick)  06/09/2012','#111',11),
 R(4,3,14,14,'#d8e4f2','#888'),L(6,14,10,9,'#1a9a1a',1.5),L(10,9,13,11,'#1a9a1a',1.5),L(13,11,17,5,'#1a9a1a',1.5),
 R(1262,1,28,15,'#f4f4f4','#888'),T(1273,7,'L','#222',10),
 L(1306,11,1317,11,'#fff',2),R(1333,5,7,7,'#0a0a0a','#ddd'),L(1363,5,1373,13,'#fff',2),L(1373,5,1363,13,'#fff',2),
 R(0,22,1393,24,'#f0f0f0'),L(0,21,1393,21,'#e8e8e8',1),
 L(16,27,16,41,'#aaa',1),
 T(23,33,'$EURUSD','#111',11.5),{type:'polygon',z:50,shape:{points:[[78,32],[84,32],[81,35]]},style:{fill:'#333'}},
 T(92,33,'1800 Tick','#111',11.5),{type:'polygon',z:50,shape:{points:[[147,32],[153,32],[150,35]]},style:{fill:'#333'}},
 L(160,27,160,41,'#bbb',1),
 cand(166,28,11,'#4cd64c'),cand(171,28,11,'#4cd64c'),cand(176,28,11,'#e03030'),{type:'polygon',z:50,shape:{points:[[182,32],[188,32],[185,35]]},style:{fill:'#333'}},
 {type:'polygon',z:50,shape:{points:[[195,39],[198,40],[208,29],[205,27]]},style:{fill:'#f2d040',stroke:'#a08020',lineWidth:1}},{type:'polygon',z:50,shape:{points:[[213,32],[219,32],[216,35]]},style:{fill:'#333'}},
 {type:'circle',z:50,shape:{cx:230,cy:35,r:4},style:{fill:'#bcd',stroke:'#777'}},L(226,39,222,42,'#666',2),L(235,29,241,29,'#1a9a1a',2),L(238,26,238,32,'#1a9a1a',2),
 {type:'circle',z:50,shape:{cx:253,cy:35,r:4},style:{fill:'#ddd',stroke:'#aaa'}},L(249,39,246,42,'#aaa',2),L(258,29,263,29,'#aaa',2),
 L(270,27,270,41,'#bbb',1),
 L(276,33,281,33,'#000',2),L(286,33,291,33,'#000',2),L(283.5,27,283.5,31,'#000',2),L(283.5,36,283.5,40,'#000',2),{type:'polygon',z:50,shape:{points:[[293,32],[299,32],[296,35]]},style:{fill:'#333'}},
 R(304,27,15,15,'#f6f6f6','#bbb'),{type:'circle',z:50,shape:{cx:311,cy:33,r:4},style:{fill:'#abc',stroke:'#777'}},
 L(327,27,327,41,'#bbb',1),
 R(330,23,22,22,'#e4eef8','#3a8ee8'),cand(334,27,5,'#20a020'),cand(343,35,6,'#d02020'),L(334,35,340,35,'#d02020',2),L(343,30,349,30,'#20a020',2),
 R(355,27,16,15,'#e8e8e8','#bbb'),cand(358,29,9,'#4cd64c'),cand(365,30,9,'#e03030'),
 R(379,27,16,15,'#e8e8e8','#bbb'),L(381,36,385,31,'#e03030',1),L(385,31,389,34,'#e03030',1),L(389,34,393,30,'#e03030',1),L(381,38,393,38,'#20a020',1),
 R(404,27,12,15,'#e6e6e6','#ccc'),T(407,34,'$','#aaa',10),
 R(426,26,14,16,'#dfe8f8','#99a'),R(428,28,10,3,'#4a78c8'),R(428,33,4,7,'#a070e0'),
 R(1380,48,13,19,'#eee','#999'),{type:'polygon',z:50,shape:{points:[[1383,54],[1390,54],[1386.5,58]]},style:{fill:'#000'}},
 // captions
 T(93,59,'MurreyMath($EURUSD (1800 Tick),True,Daily), SMA($EURUSD (1800 Tick),100), SMA($EURUSD (1800 Tick),200), PriorDayOHLC($EURUSD (1800 Tick)), TickCounter($EURUSD (1800 Tick),True,False), Pivots($EURUSD (1800 Tick),Daily,DailyBar','#222'),
 T(1200,618,'Ticks remaining = 1420','#222'),
 T(93,651,'TDMACD($EURUSD (1800 Tick),5,20,30)','#222'),
 T(93,853,'TDStochastics($EURUSD (1800 Tick),3,5,2), TDSMA(TDStochastics($EURUSD (1800 Tick),3,5,2).K,50)','#222'),
 T(93,993,'© 2012 NinjaTrader, LLC','#222'),
 R(5,843,13,13,'#f6f6f6','#000'),T(9,849,'F','#000',10),
 // panel frame
 L(90,47,90,999,'#000',1.2),L(3,633.5,1393,633.5,'#000',1.2),L(3,835.5,1393,835.5,'#000',1.2),
 // scrollbar
 R(3,1027,1390,21,'#ebebeb'),{type:'polygon',z:50,shape:{points:[[13,1034],[13,1041],[9,1037.5]]},style:{fill:'#444'}},
 R(1369,1028,13,19,'#d4d4d4','#aaa'),L(1373,1033,1373,1042,'#666',1),L(1375.5,1033,1375.5,1042,'#666',1),L(1378,1033,1378,1042,'#666',1)
];

const chart=echarts.init(document.getElementById('c'),null,{renderer:'canvas',width:1400,height:1050});
chart.setOption({
  animation:false,backgroundColor:'#fff',tooltip:{show:false},legend:{show:false},
  grid:[{left:90,top:47,width:1237,height:586},{left:90,top:635,width:1237,height:199},{left:90,top:836,width:1237,height:163}],
  xAxis:[xAxis(0,false),xAxis(1,false),xAxis(2,true)],
  yAxis:[
    gridY(0,PMIN,PMAX,priceGrid),
    labelledY(0,'right',PMIN,PMAX,priceTicks,v=>v.toFixed(4)),
    gridY(1,MMIN,MMAX,macdGrid),
    labelledY(1,'right',MMIN,MMAX,macdTicks,v=>String(v)),
    yAxisBase(2,'left',LMIN,LMAX,{axisTick:{show:true,length:5,lineStyle:{color:'#000'},customValues:stochLeftTicks},
      axisLabel:{show:true,customValues:stochLeftTicks,color:'#111',fontFamily:'Liberation Sans',fontSize:11,margin:4}}),
    labelledY(2,'right',RMIN,RMAX,stochRightTicks,v=>String(v))
  ],
  series,graphic
});
</script></body></html>
